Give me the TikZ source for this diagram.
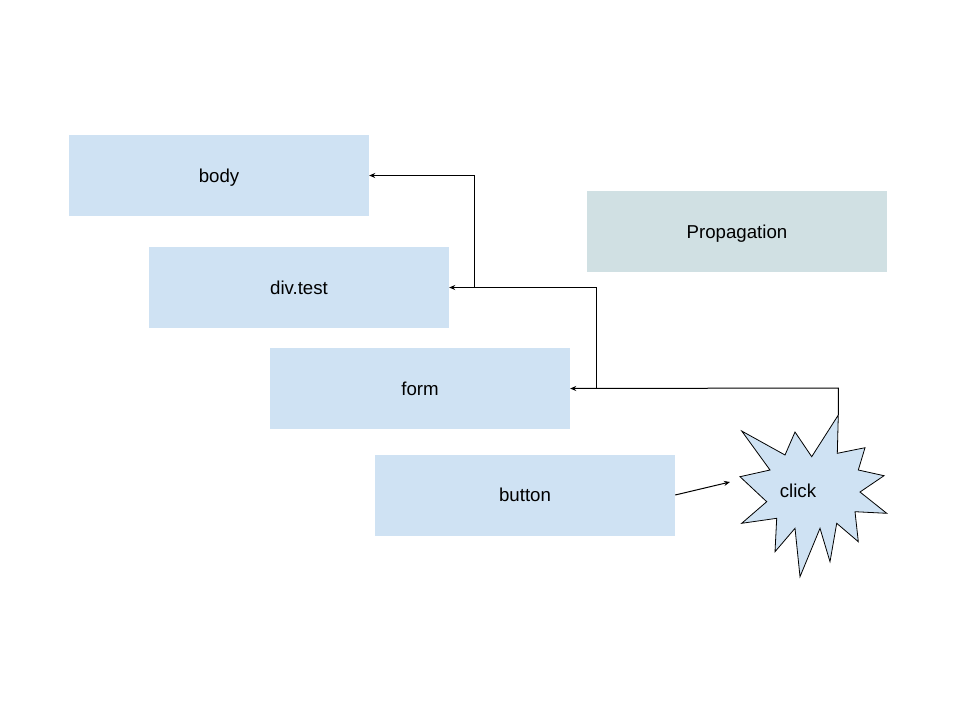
\documentclass[tikz,border=0pt]{standalone}
\usepackage{fontspec}
\setmainfont{Liberation Sans}
\usetikzlibrary{arrows.meta}
\definecolor{boxblue}{HTML}{CFE2F3}
\definecolor{boxgrey}{HTML}{D0E0E3}
\tikzset{
  lbl/.style={font=\fontsize{18.67pt}{22pt}\selectfont, text height=13.6pt, text depth=0pt},
  box/.style={lbl, fill=boxblue, draw=none, minimum width=300pt, minimum height=81pt, inner sep=0pt},
  greybox/.style={box, fill=boxgrey},
  conn/.style={draw=black, line width=1pt, -{Stealth[length=6pt,width=5pt]}},
}
\begin{document}
\begin{tikzpicture}[x=1pt,y=-1pt]
\useasboundingbox (0,0) rectangle (960,720);
\node[box] (body) at (219,175.5) {body};
\node[box] (div) at (299,287.5) {div.test};
\node[box] (form) at (420,388.5) {form};
\node[box] (button) at (525,495) {button};
\node[greybox] (prop) at (737,231.5) {Propagation};
% starburst
\draw[fill=boxblue, draw=black, line width=0.8pt]
 (741.7,431) -- (785,455) -- (795,432) -- (811.7,456.7) -- (838.3,415) -- (837.3,453.3)
 -- (865,447.7) -- (858.3,470) -- (884,475.7) -- (860,492) -- (886.7,513.3) -- (855,511.7)
 -- (858.3,541.7) -- (836.7,523.3) -- (830,561.7) -- (820,528.3) -- (800,576.7) -- (795,528.3)
 -- (775,551.7) -- (776.7,518.3) -- (741.7,523.3) -- (766.7,501.7) -- (740,476.7) -- (770,470) -- cycle;
\coordinate (startip) at (838.3,415);
\coordinate (starleft) at (730,482);
\node[lbl] (click) at (798,490.5) {click};
% connectors
\draw[conn] (startip) -- (838.3,388) -- (form.east);
\draw[conn] (596,388.5) -- (596,287.5) -- (div.east);
\draw[conn] (474,287.5) -- (474,175.5) -- (body.east);
\draw[conn] (button.east) -- (starleft);
\end{tikzpicture}
\end{document}
